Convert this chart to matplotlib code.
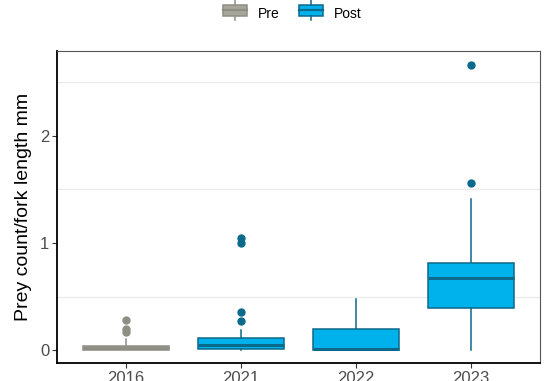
import matplotlib
matplotlib.use("Agg")
import matplotlib.pyplot as plt
from matplotlib.legend_handler import HandlerBase
from matplotlib.patches import Rectangle
from matplotlib.lines import Line2D

# box statistics per year
years = ["2016", "2021", "2022", "2023"]
period = ["Pre", "Post", "Post", "Post"]
q1 = [0.0, 0.01, 0.0, 0.39]
med = [0.02, 0.05, 0.01, 0.67]
q3 = [0.04, 0.11, 0.20, 0.81]
wlo = [0.0, 0.0, 0.0, 0.0]
whi = [0.10, 0.19, 0.48, 1.41]
outliers = [
    [0.17, 0.20, 0.28],
    [0.27, 0.36, 1.00, 1.05],
    [],
    [1.56, 2.66],
]

fill = {"Pre": "#a6a69b", "Post": "#00b2ec"}
edge = {"Pre": "#8e8e84", "Post": "#0b6a8c"}

plt.rcParams['font.family'] = ['Liberation Sans', 'DejaVu Sans']

fig = plt.figure(figsize=(5.47, 3.81), dpi=100)
ax = fig.add_axes([0.1042, 0.0472, 0.8828, 0.8189])

for i in range(len(years)):
    p = period[i]
    st = [dict(q1=q1[i], med=med[i], q3=q3[i], whislo=wlo[i], whishi=whi[i],
               fliers=outliers[i])]
    ax.bxp(st, positions=[i + 1], widths=0.75, patch_artist=True, showcaps=False,
           boxprops=dict(facecolor=fill[p], edgecolor=edge[p], linewidth=1.1),
           medianprops=dict(color=edge[p], linewidth=2.2, solid_capstyle='butt'),
           whiskerprops=dict(color=edge[p], linewidth=1.1),
           flierprops=dict(marker='o', markerfacecolor=edge[p], markeredgecolor=edge[p],
                           markersize=5))

ax.set_xlim(0.4, 4.6)
ax.set_ylim(-0.12, 2.79)
ax.set_xticks(range(1, 5))
ax.set_xticklabels(years)
ax.set_yticks([0, 1, 2])
ax.set_yticks([0.5, 1.5, 2.5], minor=True)
ax.grid(which='minor', axis='y', color='#ebebeb', linewidth=0.9)
ax.set_axisbelow(True)
ax.tick_params(axis='y', which='minor', length=0)
ax.tick_params(which='major', length=3.5, width=0.8, color='#333333',
               labelsize=12, labelcolor='#4d4d4d', pad=2)
ax.set_ylabel("Prey count/fork length mm", fontsize=14, color='black', labelpad=6)

for s in ['left', 'bottom']:
    ax.spines[s].set_color('black')
    ax.spines[s].set_linewidth(1.3)
for s in ['top', 'right']:
    ax.spines[s].set_color('#555555')
    ax.spines[s].set_linewidth(0.8)


class BoxKey(HandlerBase):
    def create_artists(self, legend, orig, x0, y0, w, h, fontsize, trans):
        fc, ec = orig.get_facecolor(), orig.get_edgecolor()
        cx = x0 + w / 2
        r = Rectangle((x0, y0 + h * 0.05), w, h * 0.9, facecolor=fc,
                      edgecolor=ec, linewidth=1.1, transform=trans)
        m = Line2D([x0, x0 + w], [y0 + h / 2] * 2, color=ec, linewidth=1.6,
                   transform=trans)
        wt = Line2D([cx, cx], [y0 + h * 0.95, y0 + h * 1.3], color=ec,
                    linewidth=1.1, transform=trans)
        wb = Line2D([cx, cx], [y0 - h * 0.3, y0 + h * 0.05], color=ec,
                    linewidth=1.1, transform=trans)
        return [r, m, wt, wb]


handles = [Rectangle((0, 0), 1, 1, facecolor=fill[k], edgecolor=edge[k]) for k in ["Pre", "Post"]]
fig.legend(handles, ["Pre", "Post"], handler_map={Rectangle: BoxKey()},
           loc='center', bbox_to_anchor=(0.535, 0.963), ncol=2, frameon=False,
           fontsize=10, handlelength=1.7, handleheight=1.0, columnspacing=1.4,
           handletextpad=0.8)

fig.savefig("out.png", dpi=100)
